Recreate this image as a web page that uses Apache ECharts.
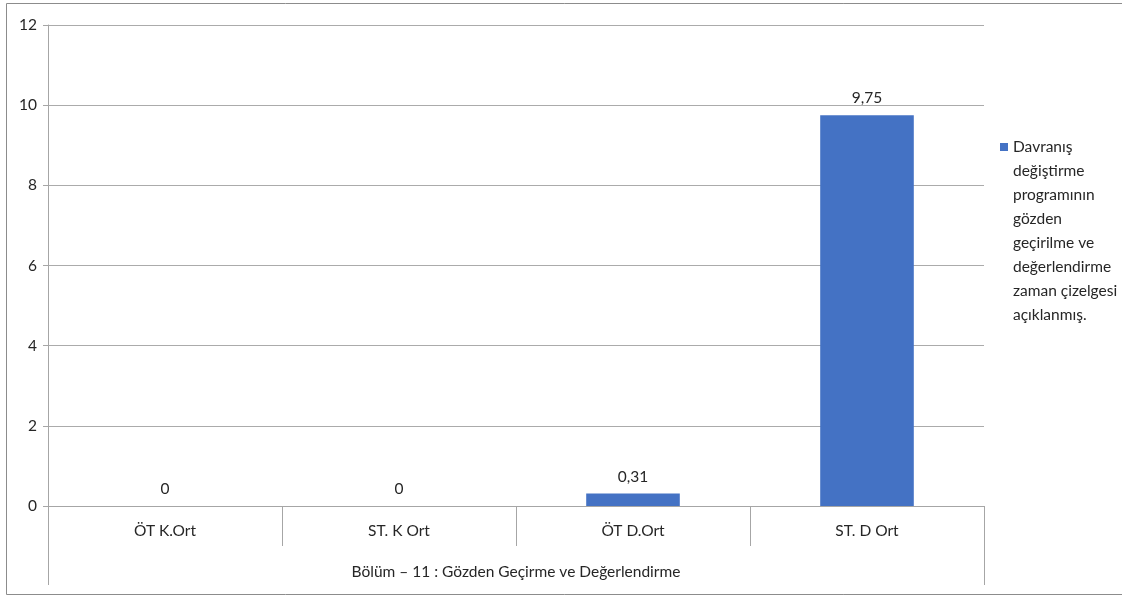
<!DOCTYPE html>
<html><head><meta charset="utf-8">
<script src="https://cdn.jsdelivr.net/npm/echarts@6/dist/echarts.min.js"></script>
<style>html,body{margin:0;padding:0;background:#fff}#c{width:1122px;height:596px}</style>
</head><body><div id="c"></div>
<script>
const categories = ['ÖT K.Ort', 'ST. K Ort', 'ÖT D.Ort', 'ST. D Ort'];
const groupLabel = ['Bölüm – 11 : Gözden Geçirme ve Değerlendirme'];
const seriesName = 'Davranış\ndeğiştirme\nprogramının\ngözden\ngeçirilme ve\ndeğerlendirme\nzaman çizelgesi\naçıklanmış.';
const values = [0, 0, 0.31, 9.75];
const yTicks = { min: 0, max: 12, interval: 2 };

const FONT = 'Lato, "Open Sans", sans-serif';
const FS = 15.5;
const TC = '#262626';
const chart = echarts.init(document.getElementById('c'));
chart.setOption({
  animation: false,
  textStyle: { fontFamily: FONT },
  grid: { left: 48, right: 138, top: 25, bottom: 90, containLabel: false },
  xAxis: [{
    type: 'category', data: categories, position: 'bottom',
    axisLine: { show: true, lineStyle: { color: '#A6A6A6', width: 1 } },
    axisTick: { show: true, length: 40, interval: 0, lineStyle: { color: '#A6A6A6' } },
    axisLabel: { margin: 17, fontSize: FS, color: TC, fontFamily: FONT, interval: 0 }
  }, {
    type: 'category', data: groupLabel, position: 'bottom', offset: 40,
    axisLine: { show: false },
    axisTick: { show: true, length: 39, lineStyle: { color: '#A6A6A6' } },
    axisLabel: { margin: 18, fontSize: FS, color: TC, fontFamily: FONT }
  }],
  yAxis: {
    type: 'value', min: yTicks.min, max: yTicks.max, interval: yTicks.interval,
    axisLine: { show: true, lineStyle: { color: '#A6A6A6' } },
    axisTick: { show: true, inside: false, length: 5, lineStyle: { color: '#A6A6A6' } },
    splitLine: { show: true, lineStyle: { color: '#ABABAB', width: 1 } },
    axisLabel: { margin: 11, fontSize: FS, color: TC, fontFamily: FONT }
  },
  legend: {
    show: true, orient: 'vertical', left: 1003, top: 130,
    icon: 'none', itemWidth: 0, itemGap: 0,
    data: [seriesName],
    textStyle: { fontSize: FS, color: TC, lineHeight: 24, fontFamily: FONT }
  },
  series: [{
    name: seriesName, type: 'bar', data: values, barWidth: '40%',
    xAxisIndex: 0,
    itemStyle: { color: '#4472C4' },
    label: {
      show: true, position: 'top', distance: 9, fontSize: FS, color: TC, fontFamily: FONT,
      formatter: p => String(p.value).replace('.', ',')
    }
  }],
  graphic: [
    { type: 'rect', left: 1000, top: 143, shape: { width: 8, height: 8 }, style: { fill: '#4472C4' } },
    { type: 'polyline', shape: { points: [[1125, 3.5], [6.5, 3.5], [6.5, 594.5], [1125, 594.5]] },
      style: { stroke: '#8C8C8C', lineWidth: 1, fill: null } }
  ]
});
</script></body></html>
